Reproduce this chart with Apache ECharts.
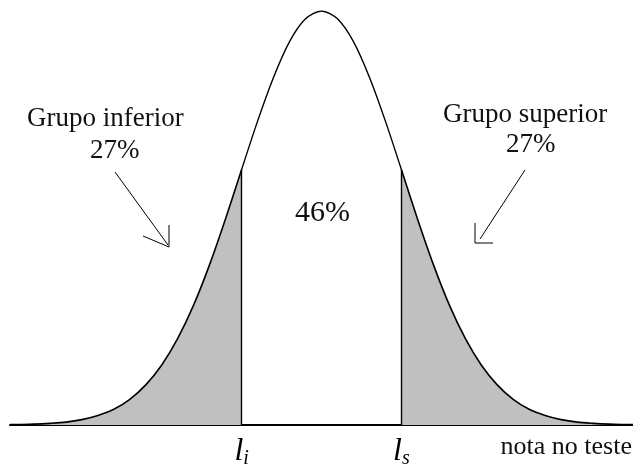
<!DOCTYPE html>
<html>
<head>
<meta charset="utf-8">
<script src="https://cdn.jsdelivr.net/npm/echarts@6/dist/echarts.min.js"></script>
<style>
  html, body { margin: 0; padding: 0; background: #fff; }
  #box { width: 633px; height: 470px; }
</style>
</head>
<body>
<div id="box"></div>
<script>
// nota no teste (unidades: l_i = -1, l_s = 1)
var notas = [-3.9, -3.8, -3.6, -3.4, -3.2, -3.0, -2.8, -2.6, -2.4, -2.2, -2.0, -1.8, -1.6, -1.4, -1.2, -1.0,
             -0.8, -0.6, -0.4, -0.2, 0, 0.2, 0.4, 0.6, 0.8,
             1.0, 1.2, 1.4, 1.6, 1.8, 2.0, 2.2, 2.4, 2.6, 2.8, 3.0, 3.2, 3.4, 3.6, 3.8, 3.9];
// altura da curva (pico = 1)
var densidade = [0.001, 0.001, 0.002, 0.004, 0.007, 0.013, 0.023, 0.038, 0.062, 0.097, 0.145, 0.209, 0.290, 0.388, 0.499, 0.617,
                 0.734, 0.840, 0.926, 0.981, 1.000, 0.981, 0.926, 0.840, 0.734,
                 0.617, 0.499, 0.388, 0.290, 0.209, 0.145, 0.097, 0.062, 0.038, 0.023, 0.013, 0.007, 0.004, 0.002, 0.001, 0.001];
var li = -1, ls = 1;
var rotulos = ['Grupo inferior', '27%', 'Grupo superior', '27%', '46%', 'nota no teste'];

var pontos = notas.map(function (x, i) { return [x, densidade[i]]; });
var inferior = pontos.filter(function (p) { return p[0] <= li; });
var meio = pontos.filter(function (p) { return p[0] >= li && p[0] <= ls; });
var superior = pontos.filter(function (p) { return p[0] >= ls; });

function alturaEm(x) {
    return densidade[notas.indexOf(x)];
}

var serif = 'Liberation Serif';
var chart = echarts.init(document.getElementById('box'));

// cauda sombreada com a linha vertical no limite
function cauda(data, lim) {
    return {
        type: 'line',
        data: data,
        smooth: 0.3,
        symbol: 'none',
        lineStyle: { color: '#000', width: 1.6 },
        areaStyle: { color: '#c0c0c0', opacity: 1 },
        markLine: {
            silent: true,
            symbol: 'none',
            label: { show: false },
            lineStyle: { color: '#000', width: 1.4, type: 'solid' },
            data: [[{ coord: [lim, 0] }, { coord: [lim, alturaEm(lim)] }]]
        },
        z: 2
    };
}

function texto(t, pos, size) {
    pos.type = 'text';
    pos.style = { text: t, font: size + 'px "Liberation Serif"', fill: '#111' };
    return pos;
}

var option = {
    animation: false,
    backgroundColor: '#fff',
    grid: { left: 10, right: 0, top: 11, bottom: 45 },
    xAxis: {
        type: 'value',
        min: -3.9,
        max: 3.9,
        offset: 3,
        splitLine: { show: false },
        axisTick: { show: false },
        axisLine: { lineStyle: { color: '#000', width: 2 } },
        axisLabel: {
            customValues: [li, ls],
            margin: 7,
            formatter: function (v) {
                return v < 0 ? '{l|l}{s|i}' : '{l|l}{s|s}';
            },
            rich: {
                l: { fontFamily: serif, fontStyle: 'italic', fontSize: 32, color: '#000' },
                s: { fontFamily: serif, fontStyle: 'italic', fontSize: 20, color: '#000', padding: [14, 0, 0, 0] }
            }
        }
    },
    yAxis: {
        type: 'value',
        min: 0,
        max: 1,
        show: false
    },
    series: [
        cauda(inferior, li),
        {
            type: 'line',
            data: meio,
            smooth: 0.3,
            symbol: 'none',
            lineStyle: { color: '#000', width: 1.4 },
            z: 2
        },
        cauda(superior, ls)
    ],
    graphic: [
        texto(rotulos[0], { left: 27, top: 105 }, 27),
        texto(rotulos[1], { left: 90, top: 137 }, 27),
        texto(rotulos[2], { left: 443, top: 101 }, 27),
        texto(rotulos[3], { left: 506, top: 131 }, 27),
        texto(rotulos[4], { left: 295, top: 198 }, 30),
        texto(rotulos[5], { right: 1, top: 434 }, 26),
        { type: 'polyline', shape: { points: [[115, 172], [168, 245]] }, style: { stroke: '#000', lineWidth: 1 } },
        { type: 'polyline', shape: { points: [[169, 225], [169, 247], [143, 236]] }, style: { stroke: '#000', lineWidth: 1, fill: null } },
        { type: 'polyline', shape: { points: [[525, 170], [480, 239]] }, style: { stroke: '#000', lineWidth: 1 } },
        { type: 'polyline', shape: { points: [[475, 223], [475, 243], [493, 243]] }, style: { stroke: '#000', lineWidth: 1, fill: null } }
    ]
};
chart.setOption(option);
</script>
</body>
</html>
